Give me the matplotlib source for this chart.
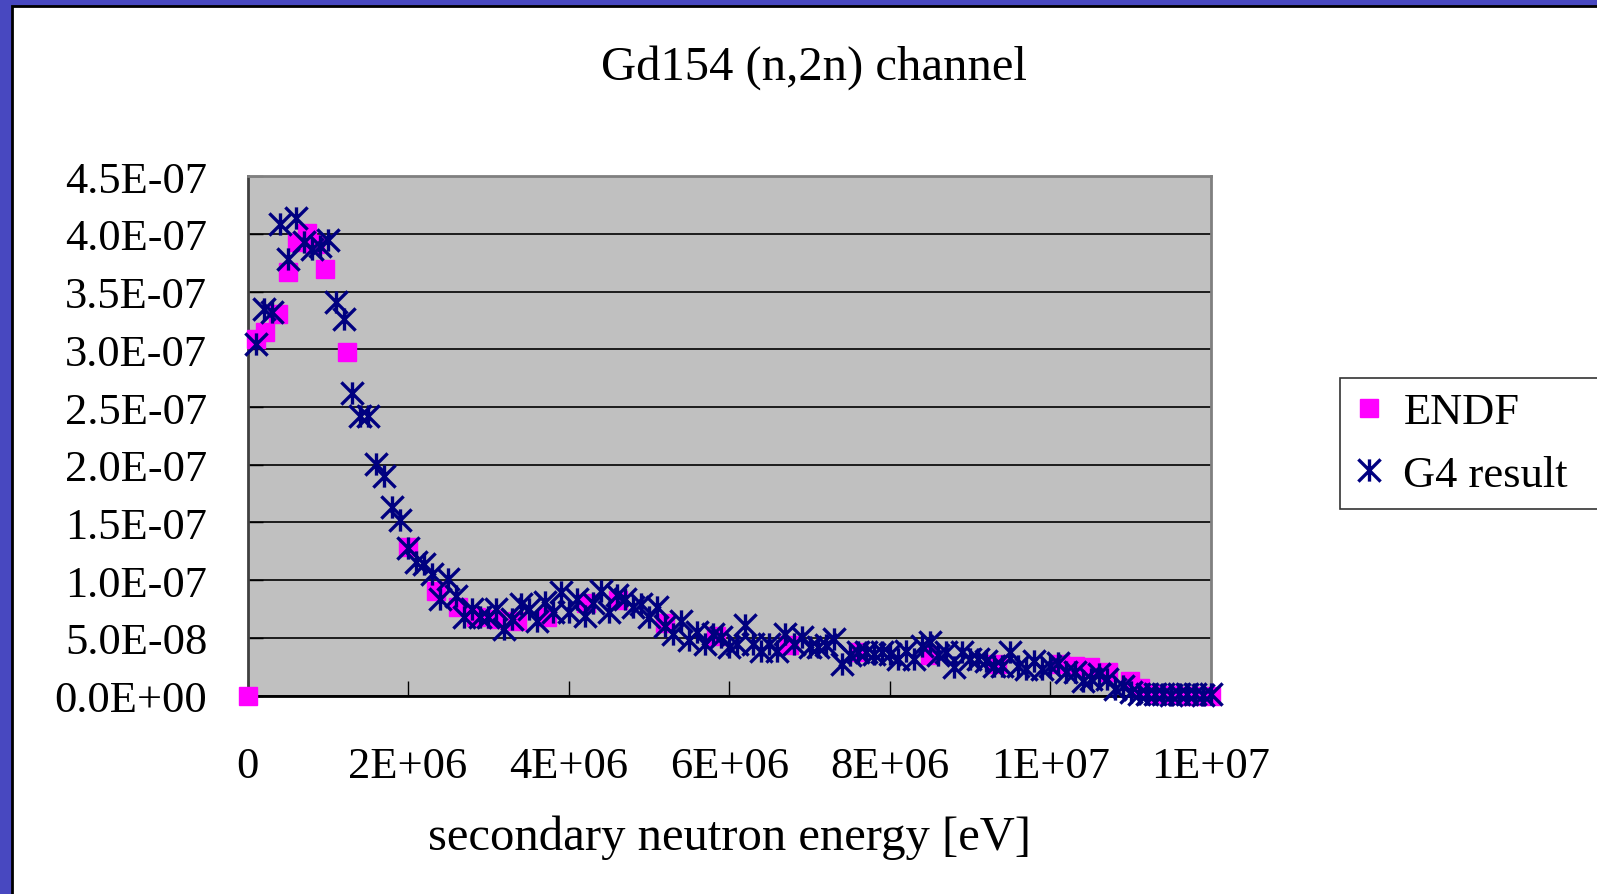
import matplotlib
matplotlib.use("Agg")
import matplotlib.pyplot as plt
import numpy as np
from matplotlib.path import Path
from matplotlib.patches import Rectangle
from matplotlib.ticker import MultipleLocator, FuncFormatter

# ENDF points: energy [eV], spectrum value
endf_energy = [0.0, 0.11e6, 0.22e6, 0.38e6, 0.50e6, 0.61e6, 0.74e6, 0.84e6, 0.97e6,
               1.24e6, 2.00e6, 2.35e6, 2.62e6, 2.85e6, 3.10e6, 3.36e6, 3.73e6,
               4.22e6, 4.62e6, 5.20e6, 5.84e6, 6.75e6, 7.60e6, 8.50e6, 9.33e6,
               10.12e6, 10.30e6, 10.49e6, 10.72e6, 10.99e6, 11.11e6, 11.30e6,
               11.50e6, 11.75e6, 12.00e6]
endf_value = [0.0, 3.09, 3.15, 3.31, 3.67, 3.93, 4.01, 3.91, 3.70,
              2.98, 1.285, 0.91, 0.765, 0.68, 0.66, 0.65, 0.68,
              0.80, 0.83, 0.63, 0.52, 0.44, 0.38, 0.35, 0.27,
              0.27, 0.26, 0.245, 0.20, 0.13, 0.065, 0.01,
              0.005, 0.0, 0.0]

# G4 result, 0.1 MeV bins
g4_energy = np.arange(1, 121) * 0.1e6
g4_value = [3.05, 3.35, 3.32, 4.09, 3.78, 4.14, 3.93, 3.87, 3.90, 3.95,
            3.41, 3.26, 2.62, 2.42, 2.42, 2.01, 1.90, 1.63, 1.52, 1.28,
            1.16, 1.14, 1.05, 0.84, 1.01, 0.86, 0.68, 0.75, 0.68, 0.68,
            0.75, 0.58, 0.66, 0.79, 0.75, 0.65, 0.81, 0.72, 0.90, 0.72,
            0.84, 0.69, 0.80, 0.91, 0.72, 0.87, 0.84, 0.765, 0.79, 0.68,
            0.765, 0.60, 0.53, 0.65, 0.48, 0.55, 0.45, 0.53, 0.505, 0.42,
            0.45, 0.61, 0.45, 0.39, 0.45, 0.39, 0.53, 0.45, 0.505, 0.42,
            0.42, 0.44, 0.49, 0.27, 0.35, 0.375, 0.375, 0.36, 0.375, 0.36,
            0.32, 0.39, 0.32, 0.43, 0.46, 0.35, 0.375, 0.245, 0.375, 0.32,
            0.32, 0.30, 0.26, 0.26, 0.375, 0.26, 0.23, 0.30, 0.23, 0.26,
            0.28, 0.20, 0.20, 0.13, 0.14, 0.19, 0.14, 0.06, 0.085, 0.03,
            0.01, 0.015, 0.01, 0.012, 0.008, 0.01, 0.012, 0.01, 0.008, 0.01]

endf_value = np.array(endf_value) * 1e-7
g4_value = np.array(g4_value) * 1e-7

plt.rcParams['font.family'] = ['Liberation Serif', 'DejaVu Serif']

fig = plt.figure(figsize=(15.97, 8.95), dpi=100)
fig.patch.set_facecolor('#4848c0')
# white slide area with black edge
fig.patches.append(Rectangle((11.5 / 1597, -0.01), 1.1, 1 - 6.5 / 895 + 0.01,
                             transform=fig.transFigure, facecolor='white',
                             edgecolor='black', lw=2, zorder=-10))

ax = fig.add_axes([0.155, 0.2217, 0.6033, 0.5802])
ax.set_facecolor('#c0c0c0')

star = Path([(0, -1), (0, 1), (-1, -1), (1, 1), (-1, 1), (1, -1)],
            [Path.MOVETO, Path.LINETO, Path.MOVETO, Path.LINETO, Path.MOVETO, Path.LINETO])

ax.plot(endf_energy, endf_value, ls='none', marker='s', ms=13, color='#ff00ff',
        mec='#ff00ff', label='ENDF', clip_on=False, zorder=3)
ax.plot(g4_energy, g4_value, ls='none', marker=star, ms=16, mew=2.4,
        mec='#000080', mfc='none', label='G4 result', clip_on=False, zorder=4)

ax.set_xlim(0, 1.2e7)
ax.set_ylim(0, 4.5e-7)
ax.xaxis.set_major_locator(MultipleLocator(2e6))
ax.yaxis.set_major_locator(MultipleLocator(0.5e-7))
ax.xaxis.set_major_formatter(FuncFormatter(lambda v, p: '0' if v == 0 else '{:.0E}'.format(v)))
ax.yaxis.set_major_formatter(FuncFormatter(lambda v, p: '{:.1E}'.format(v)))

ax.yaxis.grid(True, color='black', lw=1.2)
ax.set_axisbelow(True)
ax.tick_params(axis='both', direction='in', length=11, width=1, labelsize=32)
ax.tick_params(axis='y', pad=29)
ax.tick_params(axis='x', pad=36)

for side in ['top', 'right']:
    ax.spines[side].set_color('#808080')
    ax.spines[side].set_linewidth(2)
ax.spines['left'].set_color('#404040')
ax.spines['left'].set_linewidth(2)
ax.spines['bottom'].set_color('black')
ax.spines['bottom'].set_linewidth(2)

fig.text(0.51, 0.925, 'Gd154 (n,2n) channel', ha='center', va='center', fontsize=35)
fig.text(0.457, 0.064, 'secondary neutron energy [eV]', ha='center', va='center', fontsize=35)

leg = fig.legend(loc='upper left', bbox_to_anchor=(0.839, 0.576, 0.2, 0.001), mode='expand',
                 fontsize=32, frameon=True, fancybox=False, edgecolor='black',
                 handlelength=0.65, handletextpad=0.45, borderpad=0.33, labelspacing=0.5,
                 borderaxespad=0)
leg.get_frame().set_linewidth(1.2)

fig.savefig('out.png', dpi=100, facecolor=fig.get_facecolor())
